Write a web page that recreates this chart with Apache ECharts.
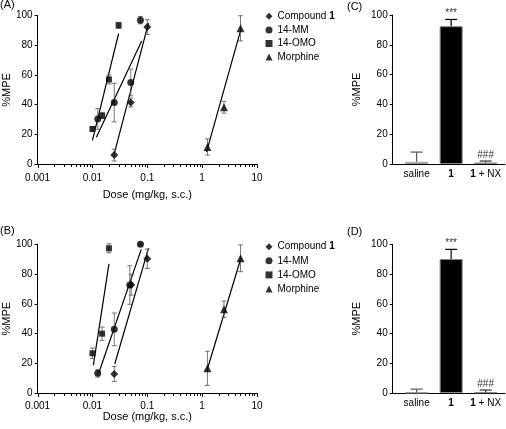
<!DOCTYPE html>
<html><head><meta charset="utf-8">
<script src="https://cdn.jsdelivr.net/npm/echarts@6/dist/echarts.min.js"></script>
<style>html,body{margin:0;padding:0;background:#fff}#c{width:506px;height:429px}</style>
</head><body><div id="c"></div><script>
// ---------- data ----------
const compounds = ['Compound 1', '14-MM', '14-OMO', 'Morphine'];
const symbols = ['diamond', 'circle', 'rect', 'triangle'];
const symbolSizes = [8, 7, 6, 8];
const xTickLabels = [0.001, 0.01, 0.1, 1, 10];

// Panel A: [dose, %MPE, sem]
const A_compound1 = [[0.025, 6, 4], [0.05, 41.4, 3], [0.1, 92.3, 5]];
const A_14MM = [[0.0125, 30.4, 7], [0.025, 41.4, 13], [0.05, 55, 9], [0.075, 97, 2.5]];
const A_14OMO = [[0.01, 23.6, 1.5], [0.015, 32.6, 2], [0.02, 57, 3], [0.03, 93.5, 2]];
const A_morphine = [[1.25, 11.5, 5.5], [2.5, 38.3, 4], [5, 91.5, 8.5]];
// Panel A regression lines: [dose, %MPE] end points
const A_fit_compound1 = [[0.025, 7], [0.105, 95]];
const A_fit_14MM = [[0.0118, 18], [0.079, 83]];
const A_fit_14OMO = [[0.01, 16], [0.03, 88]];
const A_fit_morphine = [[1.2, 8], [5.1, 91]];

// Panel B
const B_compound1 = [[0.025, 12.8, 5], [0.051, 72.8, 7], [0.1, 90.3, 6.5]];
const B_14MM = [[0.0125, 13.2, 2.5], [0.025, 42.8, 11], [0.048, 72.6, 13], [0.075, 100, 0.8]];
const B_14OMO = [[0.01, 26.7, 3.5], [0.015, 39.9, 4.5], [0.02, 97.3, 3]];
const B_morphine = [[1.25, 16.6, 11.5], [2.5, 56.3, 5.5], [5, 90.6, 9]];
const B_fit_compound1 = [[0.0255, 19.5], [0.105, 97.3]];
const B_fit_14MM = [[0.0131, 13.6], [0.0776, 96.6]];
const B_fit_14OMO = [[0.0104, 18.8], [0.02, 86.8]];
const B_fit_morphine = [[1.23, 15.5], [5.1, 90.8]];

// Panels C and D
const barCategories = ['saline', '1', '1 + NX'];
const C_values = [1.5, 92.5, 1];
const C_err = [6.5, 4.5, 1];
const D_values = [0.3, 90.1, 0.5];
const D_err = [2.3, 6.5, 1.5];
const sigLabels = ['', '***', '###'];
const yTicks = [0, 20, 40, 60, 80, 100];

// minor tick values for log axes (2..9 per decade)
const minorTickValues = [];
[0.001, 0.01, 0.1, 1].forEach(d => { for (let k = 2; k <= 9; k++) minorTickValues.push(+(d * k).toPrecision(2)); });

// ---------- helpers ----------
const FONT = 'Liberation Sans, Arial, sans-serif';
const chart = echarts.init(document.getElementById('c'), null, {renderer: 'canvas'});

function errItem(params, api) {
  const x = api.value(0), y = api.value(1), e = api.value(2);
  const top = api.coord([x, y + e]), bot = api.coord([x, y - e]);
  const hw = 2.5, st = {stroke: '#555', lineWidth: 0.8};
  return {type: 'group', children: [
    {type: 'line', shape: {x1: top[0], y1: top[1], x2: bot[0], y2: bot[1]}, style: st},
    {type: 'line', shape: {x1: top[0] - hw, y1: top[1], x2: top[0] + hw, y2: top[1]}, style: st},
    {type: 'line', shape: {x1: bot[0] - hw, y1: bot[1], x2: bot[0] + hw, y2: bot[1]}, style: st}
  ]};
}
function tickItem(params, api) {
  const p = api.coord([api.value(0), api.value(1)]);
  const len = api.value(2);
  const x = Math.round(p[0]) + 0.5, y = Math.round(p[1]);
  return {type: 'line', shape: {x1: x, y1: y, x2: x, y2: y + len}, style: {stroke: '#000', lineWidth: 1}};
}
function panelSeries(idx, sets, fits) {
  const out = [];
  sets.forEach((d, i) => {
    out.push({type: 'line', xAxisIndex: idx, yAxisIndex: idx, data: fits[i], symbol: 'none', silent: true,
      lineStyle: {color: '#000', width: 1.2}, z: 2, animation: false});
    out.push({type: 'custom', xAxisIndex: idx, yAxisIndex: idx, data: d, renderItem: errItem,
      encode: {x: 0, y: 1}, clip: false, silent: true, z: 3, animation: false});
    out.push({type: 'scatter', name: compounds[i], xAxisIndex: idx, yAxisIndex: idx,
      data: d.map(p => [p[0], p[1]]), symbol: symbols[i], symbolSize: symbolSizes[i],
      itemStyle: {color: '#000'}, z: 4, animation: false});
  });
  // axis ticks (major 4px, minor 2.5px) drawn through the axis scale
  const tickData = xTickLabels.map(v => [v, 0, 4]).concat(minorTickValues.map(v => [v, 0, 3]));
  out.push({type: 'custom', xAxisIndex: idx, yAxisIndex: idx, data: tickData, renderItem: tickItem,
    encode: {x: 0, y: 1}, clip: false, silent: true, z: 3, animation: false});
  return out;
}
function barSeries(idx, values, errs) {
  const styles = [
    {color: '#fff', borderColor: '#999', borderWidth: 1},
    {color: '#000', borderColor: '#888', borderWidth: 1},
    {color: '#333', borderColor: '#888', borderWidth: 1}
  ];
  const errColors = ['#555', '#000', '#333'];
  return [
    {type: 'bar', xAxisIndex: idx, yAxisIndex: idx, barWidth: 23, animation: false,
      data: values.map((v, i) => ({value: v, itemStyle: styles[i]}))},
    {type: 'custom', xAxisIndex: idx, yAxisIndex: idx, clip: false, silent: true, animation: false, z: 5,
      data: values.map((v, i) => [i, v, errs[i]]), encode: {x: 0, y: 1},
      renderItem: function (params, api) {
        const i = params.dataIndex;
        const base = api.coord([api.value(0), api.value(1)]);
        const top = api.coord([api.value(0), api.value(1) + api.value(2)]);
        const st = {stroke: errColors[i], lineWidth: 1.2};
        const ch = [
          {type: 'line', shape: {x1: base[0], y1: base[1], x2: top[0], y2: top[1]}, style: st},
          {type: 'line', shape: {x1: top[0] - 6, y1: top[1], x2: top[0] + 6, y2: top[1]}, style: st}
        ];
        if (sigLabels[i]) ch.push({type: 'text', x: top[0], y: top[1] - 1,
          style: {text: sigLabels[i], align: 'center', verticalAlign: 'bottom', fontSize: 10, fontFamily: FONT, fill: '#333'}});
        return {type: 'group', children: ch};
      }}
  ];
}
const legendFormatter = n => n === 'Compound 1' ? 'Compound {b|1}' : n;
function legendAt(top, gap) {
  return {data: compounds, orient: 'vertical', left: 265.5, top: top, padding: 0, itemWidth: 7, itemHeight: 7,
    itemGap: gap, selectedMode: false, formatter: legendFormatter,
    textStyle: {fontSize: 10, color: '#000', fontFamily: FONT, rich: {b: {fontWeight: 'bold', fontSize: 10, fontFamily: FONT}}}};
}
function logXAxis(grid, labelMargin, nameGap) {
  return {type: 'log', logBase: 10, gridIndex: grid, position: 'bottom', min: xTickLabels[0], max: xTickLabels[xTickLabels.length - 1],
    axisLine: {onZero: false, lineStyle: {color: '#000', width: 1}}, axisTick: {show: false},
    axisLabel: {fontSize: 10, color: '#000', fontFamily: FONT, margin: labelMargin, formatter: v => String(+(+v).toPrecision(1))},
    splitLine: {show: false}, name: 'Dose (mg/kg, s.c.)', nameLocation: 'middle', nameGap: nameGap,
    nameTextStyle: {fontSize: 11, color: '#000', fontFamily: FONT}};
}
function valYAxis(grid, show, nameGap) {
  return {type: 'value', gridIndex: grid, min: yTicks[0], max: yTicks[yTicks.length - 1], interval: 20, show: show,
    axisLine: {show: true, lineStyle: {color: '#000', width: 1}}, axisTick: {show: true, inside: false, length: 3, lineStyle: {color: '#000', width: 1}},
    axisLabel: {fontSize: 10, color: '#000', fontFamily: FONT, margin: 5}, splitLine: {show: false},
    name: '%MPE', nameLocation: 'middle', nameGap: nameGap, nameRotate: 90,
    nameTextStyle: {fontSize: 11, color: '#000', fontFamily: FONT}};
}
function lineOnlyXAxis(grid) {
  return {type: 'value', gridIndex: grid, min: 0, max: 1, axisLine: {show: true, onZero: false, lineStyle: {color: '#000'}},
    axisTick: {show: false}, axisLabel: {show: false}, splitLine: {show: false}};
}
function catXAxis(grid) {
  return {type: 'category', gridIndex: grid, data: barCategories, axisLine: {show: false}, axisTick: {show: false},
    axisLabel: {interval: 0, fontSize: 10, color: '#000', fontFamily: FONT, margin: 5,
      formatter: v => v === '1' ? '{b|1}' : (v === '1 + NX' ? '{b|1} + NX' : v),
      rich: {b: {fontWeight: 'bold', fontSize: 10, fontFamily: FONT, color: '#000'}}}};
}
const panelLabel = (t, x, y) => ({type: 'text', left: x, top: y, style: {text: t, fontSize: 11, fontFamily: FONT, fill: '#000'}});

chart.setOption({
  animation: false,
  textStyle: {fontFamily: FONT},
  grid: [
    {left: 33.5, top: 15.7, width: 223.5, height: 148.3},
    {left: 33.5, top: 244.3, width: 223.5, height: 148.7},
    {left: 392.7, top: 15, width: 112.3, height: 149},
    {left: 399.4, top: 15, width: 103.5, height: 149},
    {left: 392.7, top: 244.3, width: 112.3, height: 148.7},
    {left: 399.4, top: 244.3, width: 103.5, height: 148.7}
  ],
  xAxis: [logXAxis(0, 9, 25), logXAxis(1, 8, 15), lineOnlyXAxis(2), catXAxis(3), lineOnlyXAxis(4), catXAxis(5)],
  yAxis: [valYAxis(0, true, 22), valYAxis(1, true, 22), valYAxis(2, true, 30), valYAxis(3, false, 0), valYAxis(4, true, 30), valYAxis(5, false, 0)],
  legend: [legendAt(11.3, 3.6), legendAt(241.7, 4.1)],
  graphic: [panelLabel('(A)', 0, -1), panelLabel('(B)', 0, 225), panelLabel('(C)', 347, 1), panelLabel('(D)', 347, 226)],
  series: [].concat(
    panelSeries(0, [A_compound1, A_14MM, A_14OMO, A_morphine], [A_fit_compound1, A_fit_14MM, A_fit_14OMO, A_fit_morphine]),
    panelSeries(1, [B_compound1, B_14MM, B_14OMO, B_morphine], [B_fit_compound1, B_fit_14MM, B_fit_14OMO, B_fit_morphine]),
    barSeries(3, C_values, C_err),
    barSeries(5, D_values, D_err)
  )
});
</script></body></html>
